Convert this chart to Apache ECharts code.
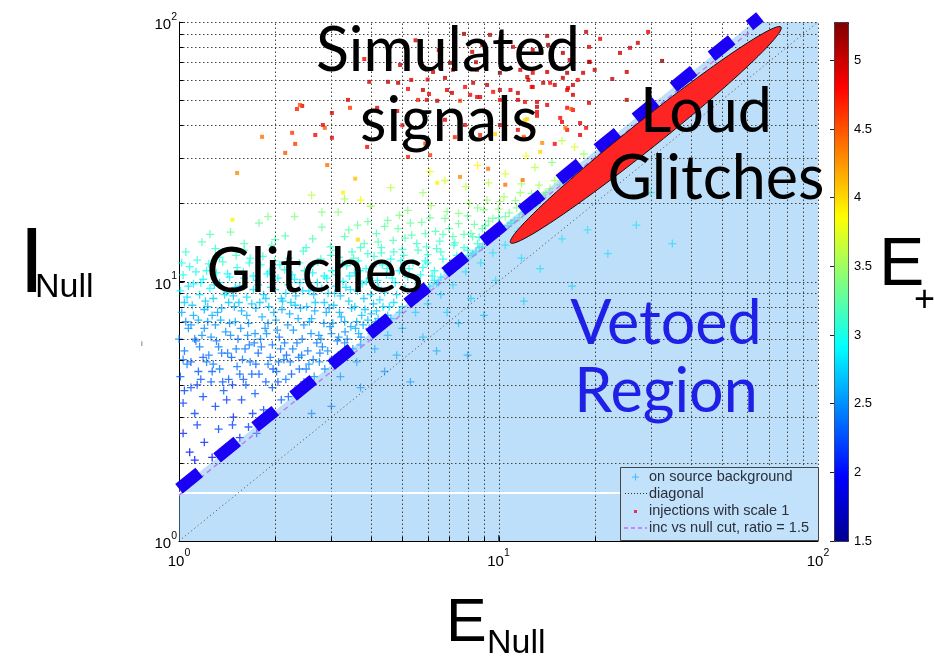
<!DOCTYPE html>
<html><head><meta charset="utf-8">
<script src="https://cdn.jsdelivr.net/npm/echarts@6/dist/echarts.min.js"></script>
<style>html,body{margin:0;padding:0;background:#fff}#c{width:934px;height:658px}</style>
</head><body><div id="c"></div>
<script>
// ---- data (E_Null, I_Null, E_+) ----
const bgPoints = [
[1.01,9.2,2.9],[1.03,10.6,3.0],[1.06,8.7,2.8],[1.08,11.4,3.0],[1.11,9.8,2.9],[1.14,12.1,3.1],[1.16,8.9,2.8],[1.19,10.2,2.9],[1.22,11.0,3.0],[1.25,9.4,2.9],[1.28,8.6,2.7],[1.31,10.8,3.0],[1.34,9.9,2.8],[1.37,11.9,3.1],[1.41,9.1,2.8],[1.44,10.4,2.9],[1.48,8.8,2.7],[1.52,11.3,3.0],[1.55,9.6,2.8],[1.59,10.9,3.0],[1.63,8.7,2.8],[1.67,12.3,3.1],[1.71,9.3,2.8],[1.75,10.1,2.9],[1.8,11.6,3.0],[1.84,8.9,2.7],[1.89,10.7,2.9],[1.94,9.5,2.8],[1.99,12.0,3.1],[2.04,10.3,2.9],[2.09,8.6,2.7],[2.14,11.1,3.0],[2.2,9.7,2.8],[2.26,10.6,2.9],[2.32,8.8,2.7],[2.38,11.8,3.0],[2.44,9.2,2.8],[2.5,10.2,2.9],[2.57,11.4,3.0],[2.64,8.9,2.7],[2.71,9.9,2.8],[2.78,12.2,3.1],[2.85,10.5,2.9],[2.93,9.0,2.8],[3.01,11.0,3.0],[3.09,9.6,2.8],[3.17,12.4,3.1],[3.26,10.0,2.9],[3.35,11.5,3.0],[3.44,9.3,2.8],[3.54,10.8,2.9],[3.64,12.0,3.0],[3.74,9.8,2.9],[3.85,11.2,3.0],[3.96,10.3,2.9],[4.08,12.5,3.1],[4.2,9.5,2.8],[4.33,11.6,3.0],[4.46,10.6,2.9],[4.6,12.2,3.0],[4.75,9.9,2.9],[4.9,11.0,2.9],[5.05,12.6,3.1],[5.2,10.4,2.9],[5.4,11.8,3.0],[5.6,9.8,2.8],[5.8,11.3,3.0],[6.0,12.7,3.1],
[1.02,7.6,2.6],[1.04,5.4,2.4],[1.07,6.6,2.5],[1.1,8.1,2.7],[1.13,5.9,2.4],[1.15,7.1,2.6],[1.18,6.2,2.5],[1.21,8.4,2.7],[1.24,5.2,2.4],[1.27,7.4,2.6],[1.3,6.8,2.5],[1.33,5.6,2.4],[1.36,7.9,2.6],[1.4,6.4,2.5],[1.43,8.3,2.7],[1.46,5.1,2.3],[1.5,7.0,2.6],[1.53,6.0,2.4],[1.57,7.7,2.6],[1.61,5.5,2.4],[1.65,6.9,2.5],[1.69,8.2,2.7],[1.73,6.3,2.5],[1.77,5.3,2.3],[1.82,7.3,2.6],[1.86,6.6,2.5],[1.91,8.0,2.7],[1.96,5.7,2.4],[2.01,7.1,2.6],[2.06,6.1,2.4],[2.11,8.4,2.7],[2.17,5.2,2.3],[2.22,7.5,2.6],[2.28,6.5,2.5],[2.34,5.8,2.4],[2.4,7.9,2.6],[2.46,6.8,2.5],[2.53,5.4,2.4],[2.6,7.2,2.6],[2.67,8.3,2.7],[2.74,6.2,2.5],[2.81,5.6,2.4],[2.89,7.6,2.6],[2.97,6.7,2.5],[3.05,8.1,2.7],[3.13,5.9,2.4],[3.22,7.3,2.6],[3.31,6.4,2.5],[3.4,8.4,2.7],[3.5,5.5,2.5],[3.6,7.0,2.6],[3.71,6.1,2.5],[3.82,7.8,2.7],[3.94,6.6,2.6],[4.06,8.2,2.7],[4.2,7.2,2.7],[4.35,8.0,2.8],[4.5,7.4,2.7],[4.7,8.3,2.8],[4.9,7.6,2.8],
[1.05,7.0,2.5],[1.12,6.0,2.4],[1.2,7.8,2.6],[1.26,6.1,2.5],[1.35,7.1,2.6],[1.42,5.3,2.4],[1.49,8.0,2.6],[1.56,6.6,2.5],[1.63,7.4,2.6],[1.72,5.8,2.4],[1.79,8.3,2.7],[1.88,6.3,2.5],[1.98,7.6,2.6],[2.08,5.5,2.4],[2.19,6.8,2.5],[2.31,8.1,2.7],[2.43,6.0,2.4],[2.56,7.0,2.6],[2.7,5.8,2.4],[2.85,8.3,2.7],[3.0,6.3,2.5],[3.18,7.6,2.6],[3.36,6.0,2.5],[3.55,8.0,2.7],[3.77,6.8,2.6],[4.0,7.5,2.7],
[1.01,4.3,2.3],[1.03,3.4,2.2],[1.06,4.8,2.4],[1.09,3.9,2.3],[1.12,3.1,2.2],[1.15,4.5,2.3],[1.19,3.6,2.2],[1.22,4.9,2.4],[1.26,4.1,2.3],[1.3,3.3,2.2],[1.34,4.6,2.4],[1.38,3.8,2.3],[1.43,4.2,2.3],[1.48,3.0,2.1],[1.52,4.7,2.4],[1.57,3.5,2.2],[1.62,4.0,2.3],[1.67,4.9,2.4],[1.73,3.7,2.3],[1.78,4.4,2.3],[1.84,3.2,2.2],[1.9,4.8,2.4],[1.96,3.9,2.3],[2.02,4.5,2.4],[2.09,3.5,2.3],[2.16,4.2,2.4],[2.23,4.9,2.4],[2.3,3.8,2.3],[2.38,4.6,2.4],[2.46,4.1,2.4],[2.55,4.8,2.5],[2.65,4.3,2.5],[2.75,4.9,2.5],[2.86,4.6,2.5],[2.97,4.95,2.5],
[1.04,3.8,2.2],[1.17,4.2,2.3],[1.28,4.8,2.4],[1.41,3.5,2.2],[1.55,4.4,2.3],[1.7,3.1,2.2],[1.87,4.1,2.3],[2.05,4.9,2.4],[2.2,3.6,2.3],[2.42,3.9,2.3],
[1.03,2.6,2.1],[1.08,2.2,2.0],[1.14,2.8,2.2],[1.2,2.4,2.1],[1.27,2.1,2.0],[1.33,2.7,2.2],[1.4,2.3,2.1],[1.47,2.8,2.2],[1.55,2.5,2.1],[1.65,2.75,2.2],[1.75,2.6,2.2],[1.86,2.9,2.2],[1.12,2.05,2.0],
[1.05,13.0,3.1],[1.18,14.2,3.2],[1.3,13.4,3.1],[1.45,15.5,3.3],[1.6,13.2,3.1],[1.78,16.8,3.3],[1.95,13.8,3.2],[2.15,15.0,3.2],[2.3,17.8,3.4],[2.45,13.1,3.1],[2.62,14.6,3.2],[2.8,16.2,3.3],[2.98,13.6,3.1],[3.15,18.5,3.4],[3.3,14.9,3.2],[3.48,13.0,3.1],[3.62,16.5,3.3],[3.8,14.0,3.2],[3.98,19.5,3.5],[4.15,15.3,3.2],[4.3,13.5,3.1],[4.5,17.2,3.3],[4.68,14.4,3.2],[4.85,16.0,3.3],[5.0,13.3,3.1],[5.2,18.8,3.4],[5.35,15.1,3.2],[5.55,14.0,3.1],[5.75,16.9,3.3],[5.95,13.6,3.1],[6.15,19.6,3.5],[6.35,15.6,3.2],[6.55,14.3,3.1],[6.8,17.5,3.3],[7.0,16.0,3.2],[7.25,13.8,3.1],[7.5,18.3,3.4],[7.8,15.2,3.2],[8.1,20.0,3.5],[8.4,16.6,3.3],[8.7,14.8,3.1],[9.0,18.9,3.4],[9.3,17.1,3.3],[9.7,15.9,3.2],[10.1,20.3,3.5],[10.5,17.8,3.3],[10.9,16.8,3.2],[11.4,19.2,3.4],[11.9,18.2,3.3],[12.5,20.1,3.4],[13.1,19.6,3.4],[13.8,21.5,3.5],[14.5,22.8,3.5],
[2.6,21.5,3.6],[3.7,20.6,3.9],[4.6,23.0,3.6],[5.8,22.0,3.5],[6.8,24.5,3.7],[7.9,23.2,3.6],[9.3,24.0,3.6],[10.5,26.0,3.7],[11.8,23.8,3.5],[13.0,27.5,3.6],[14.7,28.8,3.4],[15.8,34.9,3.6],[17.3,33.0,3.7],[16.2,26.5,3.5],[12.2,30.5,3.8],[18.5,31.0,3.5],[8.6,28.0,3.9],[6.1,26.5,3.8],
[5.9,9.3,2.9],[6.2,10.5,3.0],[6.5,9.9,2.9],[6.8,11.2,3.0],[7.1,11.8,3.0],[7.4,12.6,3.1],[7.7,11.9,3.0],[8.0,13.2,3.0],[8.3,12.8,3.0],[8.6,14.0,3.1],[8.9,13.6,3.0],[9.2,14.6,3.1],[9.5,15.0,3.0],[9.9,15.6,3.1],[10.3,16.0,3.1],[10.7,16.4,3.0],[11.2,17.2,3.1],[6.0,11.8,3.0],[6.6,13.0,3.1],[7.3,14.1,3.1],[8.2,15.3,3.2],[9.1,16.4,3.2],[10.0,17.6,3.2],[5.3,8.6,2.8],[5.0,8.0,2.8],[4.6,7.2,2.7],[4.3,6.7,2.7],[4.0,6.3,2.6],[3.7,5.7,2.6],[3.4,5.3,2.5],[3.1,4.9,2.5],[6.4,9.8,2.9],[7.0,10.8,2.9],[7.6,11.6,3.0],[8.5,13.0,3.0],[12.0,18.5,3.2],[12.8,19.5,3.2],
[3.2,4.3,2.5],[3.6,4.9,2.6],[4.1,5.5,2.6],[4.5,6.2,2.7],[5.0,6.6,2.7],[5.5,7.6,2.8],[6.0,8.2,2.8],[6.6,8.9,2.8],[7.2,9.7,2.9],[7.9,10.9,2.9],[8.8,11.8,2.9],[9.6,12.9,3.0],[10.5,13.8,3.0],[11.5,15.6,3.0],[12.6,16.8,3.0],[4.8,5.2,2.6],[5.8,6.1,2.7],[6.9,7.6,2.8],[8.2,8.6,2.8],[9.8,10.1,2.9],[11.8,12.3,2.9],[13.5,11.2,2.9],[15.8,14.6,3.0],[19.0,15.8,3.0],[27.0,16.5,3.0],[22.0,12.8,2.9],[17.0,9.6,2.8],[3.7,3.9,2.5],[4.4,4.5,2.5],[6.4,5.4,2.6],[5.3,4.1,2.5],[7.5,6.9,2.7],[9.0,7.4,2.7],[12.0,8.4,2.8],[30.0,22.0,3.1],[35.0,14.0,2.9],[8.0,5.2,2.6],[3.0,3.3,2.4],[2.6,3.1,2.4],
[1.0,6.0,2.5],[1.02,11.8,3.0],[1.04,8.3,2.7],[1.07,9.6,2.8],[1.09,4.9,2.3],[1.11,7.4,2.6],[1.13,10.9,3.0],[1.16,5.6,2.4],[1.17,9.9,2.9],[1.2,6.6,2.5],[1.23,8.0,2.7],[1.24,11.7,3.0],[1.27,4.5,2.3],[1.29,9.7,2.8],[1.32,7.6,2.6],[1.34,12.4,3.1],[1.36,5.3,2.4],[1.39,8.9,2.8],[1.42,10.7,2.9],[1.44,6.9,2.5],[1.47,4.0,2.2],[1.5,9.5,2.8],[1.51,12.6,3.1],[1.54,8.3,2.7],[1.58,5.0,2.4],[1.6,10.3,2.9],[1.64,6.2,2.5],[1.66,11.8,3.0],[1.69,4.4,2.3],[1.71,10.5,2.9],[1.74,7.9,2.6],[1.77,9.7,2.8],[1.81,5.6,2.4],[1.83,12.5,3.1],[1.87,8.6,2.7],[1.9,6.9,2.5],[1.92,10.9,2.9],[1.97,4.6,2.3],[2.0,9.3,2.8],[2.03,6.5,2.5],[2.07,11.6,3.0],[2.1,7.8,2.6],[2.13,5.0,2.4],[2.16,9.0,2.8],[2.21,12.3,3.1],[2.24,8.3,2.7],[2.27,5.5,2.4],[2.3,10.2,2.9],[2.36,7.2,2.6],[2.39,9.9,2.8],[2.42,5.2,2.4],[2.47,11.0,3.0],[2.51,8.0,2.7],[2.55,9.2,2.8],[2.59,6.3,2.5],[2.62,10.8,2.9],[2.66,7.7,2.6],[2.72,11.9,3.0],[2.76,5.3,2.4],[2.8,9.4,2.8],[2.84,6.9,2.5],[2.9,10.3,2.9],[2.95,7.9,2.6],[2.99,12.6,3.1],
[3.03,6.9,2.6],[3.07,9.0,2.8],[3.12,10.6,2.9],[3.16,6.1,2.5],[3.2,8.8,2.7],[3.25,11.7,3.0],[3.3,7.0,2.6],[3.33,9.5,2.8],[3.38,5.5,2.5],[3.42,10.5,2.9],[3.47,7.9,2.7],[3.52,12.3,3.1],[3.57,6.6,2.6],[3.62,9.2,2.8],[3.68,11.0,2.9],[3.73,7.4,2.7],[3.79,8.6,2.7],[3.86,10.0,2.9],[3.9,12.8,3.1],[3.98,8.9,2.8],[4.04,11.4,3.0],[4.12,7.0,2.7],[4.18,10.1,2.9],[4.25,8.5,2.8],[4.3,12.9,3.1],[4.4,9.1,2.8],[4.48,11.2,3.0],[4.55,8.0,2.8],[4.65,10.3,2.9],[4.8,8.9,2.8],[4.95,12.0,3.0],[5.1,9.4,2.9],[5.25,11.2,3.0],[5.45,8.8,2.9],[5.7,10.6,2.9],[5.9,12.0,3.0],[6.3,11.0,3.0],[6.7,12.2,3.0],
[3.1,13.2,3.1],[3.4,15.8,3.3],[3.7,13.5,3.1],[3.9,17.0,3.3],[4.2,14.2,3.2],[4.4,16.3,3.3],[4.7,13.0,3.1],[4.9,18.0,3.4],[5.1,14.7,3.2],[5.3,16.8,3.3],[5.6,13.2,3.1],[5.9,15.3,3.2],[6.1,17.6,3.3],[6.4,13.4,3.1],[6.7,15.2,3.2],[6.9,18.6,3.4],[7.2,14.9,3.2],[7.5,16.7,3.3],[7.8,13.5,3.1],[8.0,17.9,3.3],[8.3,14.9,3.2],[8.6,19.2,3.4],[8.9,16.0,3.2],[9.2,20.6,3.5],[9.6,17.5,3.3],[10.0,19.0,3.4],[10.4,21.2,3.5],[10.8,18.4,3.3],[11.3,20.5,3.4],[11.7,22.0,3.5],[12.2,19.8,3.3],[12.7,21.8,3.4],[13.4,23.5,3.5],[14.0,22.0,3.4],[15.0,24.5,3.5],[15.6,23.6,3.4],[2.5,13.5,3.1],[2.0,14.5,3.2],[1.6,14.0,3.2],[1.25,15.2,3.2],[2.8,18.5,3.4],[3.3,20.8,3.5],[1.9,17.8,3.4],
[5.5,8.8,2.8],[5.8,9.2,2.8],[6.1,9.6,2.9],[6.3,10.1,2.9],[6.6,10.4,2.9],[6.9,10.9,2.9],[7.2,11.2,3.0],[7.5,11.9,3.0],[7.9,12.3,3.0],[8.2,12.6,3.0],[8.7,13.5,3.1],[9.3,14.3,3.1],[9.8,15.1,3.1],[10.4,15.9,3.1],[11.0,16.8,3.1],[11.6,17.6,3.2],
[1.03,5.0,2.4],[1.09,6.8,2.5],[1.14,4.0,2.2],[1.19,5.1,2.3],[1.23,7.0,2.5],[1.31,5.9,2.4],[1.37,4.1,2.3],[1.45,6.2,2.5],[1.51,5.5,2.4],[1.59,4.2,2.3],[1.66,5.7,2.4],[1.74,4.8,2.3],[1.8,6.0,2.5],[1.93,5.1,2.4],[2.04,4.1,2.3],[2.14,5.8,2.4],[2.25,4.4,2.3],[2.37,5.1,2.4],[2.5,4.6,2.4],[2.63,5.0,2.4],[2.78,6.0,2.5],[2.92,5.4,2.5],[3.15,5.2,2.5],[3.3,5.8,2.5],[3.45,6.7,2.6],[3.65,6.3,2.6],[3.9,7.1,2.7],[4.15,7.7,2.7]
];
const injPoints = [
[9.4,89.2,5.0],[14.2,88.4,5.1],[18.8,91.6,5.0],[20.8,86.1,4.9],[8.27,76.7,5.0],[7.05,69.6,5.2],[8.89,81.6,5.0],[11.1,80.2,4.9],[12.8,78.1,5.0],[15.9,76.0,5.1],[19.2,80.2,4.9],[24.0,76.0,5.0],[14.3,81.6,5.2],
[4.92,68.3,5.0],[6.24,64.2,5.0],[7.2,65.4,4.9],[8.57,65.4,5.1],[10.1,63.7,5.3],[11.7,65.4,5.0],[12.8,63.7,4.9],[14.2,64.2,5.0],[16.4,63.7,5.1],[18.4,63.7,5.0],[19.3,70.2,4.9],[22.7,60.3,5.0],[20.0,65.4,5.0],
[3.94,58.8,4.9],[4.51,58.8,5.0],[4.85,58.3,5.0],[5.33,59.8,4.9],[5.21,55.2,4.8],[5.8,54.7,5.0],[6.06,52.8,4.8],[6.8,60.9,5.0],[6.9,54.7,4.9],[7.15,53.3,5.0],[7.86,56.2,4.8],[8.33,58.3,5.0],[8.57,51.4,4.9],[9.21,57.2,5.0],[9.62,53.8,4.8],[10.1,54.7,5.0],[10.9,54.7,4.9],[11.5,53.3,5.0],[12.4,59.8,4.9],[12.8,56.2,5.0],[13.8,58.3,5.0],[14.5,58.3,4.8],[15.0,57.2,5.0],[15.9,60.9,5.0],[16.4,54.7,4.9],[17.1,57.2,5.0],[17.7,59.8,4.8],
[2.34,46.2,4.7],[2.43,47.5,4.9],[3.01,44.6,4.9],[3.38,50.1,4.9],[3.43,46.7,4.6],[4.17,46.7,4.9],[4.82,45.4,4.9],[5.6,50.1,4.7],[5.97,50.1,4.9],[6.43,49.7,5.0],[7.58,49.7,4.6],[8.15,52.4,4.8],[8.76,51.4,4.9],[10.1,50.1,4.8],[11.5,50.1,5.0],[12.1,49.2,4.8],[13.2,49.2,4.9],[14.2,47.9,4.9],[17.1,45.8,4.8],[19.2,48.8,4.9],[25.2,50.1,5.0],
[2.82,40.1,4.8],[2.67,36.7,4.8],[2.26,37.4,4.6],[2.15,31.3,4.5],[2.31,33.9,4.6],[3.01,35.8,4.9],[3.88,33.0,4.8],[5.21,30.2,4.7],[6.11,30.7,4.6],[10.1,40.1,4.9],[8.76,36.7,4.7],[7.86,40.1,4.8],[11.5,38.4,4.9],[12.0,35.8,4.7],[13.2,43.5,4.9],[15.0,33.9,4.8],[15.8,41.2,4.9],[16.4,38.4,4.8],[18.0,36.7,4.9],[18.8,39.1,4.8],
[2.91,28.1,4.4],[3.56,24.9,4.1],[3.26,22.0,3.9],[6.43,24.0,3.9],[7.58,25.3,4.3],[9.28,27.2,4.4],[9.76,37.0,4.0],[12.3,42.3,4.0],[13.5,31.6,4.0],[16.2,39.1,4.4],
[27.3,83.1,5.0],[29.4,91.6,4.9],[32.5,70.8,5.2],[25.2,64.2,5.0],[19.2,70.2,5.0],[25.8,79.5,4.9],[16.7,71.4,5.0],[16.5,55.7,4.9],[17.1,52.4,5.0],[12.7,56.2,4.8],[12.3,61.4,5.0],[16.4,46.7,4.8],[16.9,46.2,4.5],[18.0,40.8,4.9],[15.6,42.7,4.8],[13.2,47.1,5.0],[13.2,45.0,4.9],[11.6,44.6,4.8],[12.0,36.1,4.4],[13.7,34.2,4.3],[12.1,41.9,4.0],[10.5,23.6,4.4],[11.9,24.6,4.4],
[1.82,36.1,4.4],[2.39,47.9,4.5],[2.86,39.1,4.5],[1.47,17.3,3.9],[1.52,26.2,4.3],[3.63,14.5,4.0],
[5.5,85,5.0],[6.5,78,4.9],[7.8,90,5.1],[4.5,80,4.9],[3.8,72,4.8],[8.5,70,5.0],[6.0,60,4.9],[5.0,40,4.8],[6.8,42,4.9],[7.3,36,4.7],[4.3,38,4.8],[5.9,34,4.6]
];
const diagonalLine = [[1,1],[100,100]];
const cutLine = [[1,1.5],[66.67,100]];          // inc vs null cut, ratio = 1.5
const vetoBoundary = [[1,1.59],[62.9,100],[100,100]];
const handLine = [[1,1.59],[65.8,104.6]];       // hand-drawn thick dashed line
const whiteLine = [[1,1.53],[100,1.53]];
const ellipseEnds = [[10.9,14.1,76.6,95.6]];    // "Loud Glitches" ellipse tips
const gridValues = [2,3,4,5,6,7,8,9,10,20,30,40,50,60,70,80,90,100];
const colorRange = [1.5, 5.28];
const colorTicks = 0.5;

const jet = ['#00008f','#0000ff','#0080ff','#00ffff','#80ff80','#ffff00','#ff8000','#ff0000','#800000'];
const plusSym = 'path://M4.2,0H5.8V4.2H10V5.8H5.8V10H4.2V5.8H0V4.2H4.2Z';
const F = 'Liberation Sans';
const sup = v => '{b|10}{s|' + Math.round(Math.log10(v)) + '}';
const rich = {
  b:{fontSize:15,fontFamily:F,color:'#000',verticalAlign:'bottom'},
  s:{fontSize:10.5,fontFamily:F,color:'#000',verticalAlign:'bottom',padding:[0,0,10,0]}
};

const chart = echarts.init(document.getElementById('c'));
const ann = (text, x, y, size, color, fam, align) => ({
  type:'text', x:x, y:y, z:100, silent:true,
  style:{text:text, fontSize:size, fontFamily:fam||'Lato', fill:color||'#000', align:align||'center', verticalAlign:'middle'}
});
chart.setOption({
  animation:false,
  backgroundColor:'#fff',
  grid:[{left:179,top:22,width:639,height:519},{left:834,top:22,width:14,height:519}],
  xAxis:[
    {type:'log',logBase:10,min:1,max:100,gridIndex:0,
     axisLine:{show:true,lineStyle:{color:'#000',width:1}},
     axisTick:{inside:true,length:6,lineStyle:{color:'#000'}},
     splitLine:{show:false},
     axisLabel:{formatter:sup,rich:rich,fontSize:15,fontFamily:F,color:'#000',margin:7}},
    {type:'value',gridIndex:1,min:0,max:1,show:false}
  ],
  yAxis:[
    {type:'log',logBase:10,min:1,max:100,gridIndex:0,
     axisLine:{show:true,lineStyle:{color:'#000',width:1}},
     axisTick:{inside:true,length:6,lineStyle:{color:'#000'}},
     splitLine:{show:false},
     axisLabel:{formatter:sup,rich:rich,fontSize:15,fontFamily:F,color:'#000',margin:2}},
    {type:'value',gridIndex:1,min:colorRange[0],max:colorRange[1],interval:colorTicks,position:'right',z:10,
     axisLine:{show:false},
     axisTick:{show:true,inside:true,length:4,lineStyle:{color:'#222'}},
     axisLabel:{showMaxLabel:false,fontSize:13,fontFamily:F,color:'#000',margin:6},
     splitLine:{show:false}}
  ],
  visualMap:{type:'continuous',min:colorRange[0],max:colorRange[1],dimension:2,seriesIndex:[0,1],
    inRange:{color:jet},left:834,top:22,itemWidth:14,itemHeight:519,padding:0,text:['',''],
    calculable:false,hoverLink:false,borderColor:'#222',borderWidth:1,show:true},
  series:[
    {name:'on source background',type:'scatter',data:bgPoints,symbol:plusSym,symbolSize:8,z:2,silent:true},
    {name:'injections with scale 1',type:'scatter',data:injPoints,symbol:'rect',symbolSize:4,z:3,silent:true},
    {name:'veto',type:'line',data:vetoBoundary,symbol:'none',z:4,silent:true,
     lineStyle:{width:0},areaStyle:{color:'rgba(110,185,245,0.45)',opacity:1,origin:'start'}},
    {name:'grid',type:'custom',z:5,silent:true,data:gridValues.map(v=>[v,v]),
     renderItem:function(params,api){
       const v=api.value(0);
       const a=api.coord([v,1]), b=api.coord([v,100]);
       const c=api.coord([1,v]), d=api.coord([100,v]);
       const ax=Math.round(a[0])+0.5, cy=Math.round(c[1])+0.5;
       const st={stroke:'#444',lineWidth:1,lineDash:[1.5,2.5]};
       const tk={stroke:'#000',lineWidth:1};
       return {type:'group',children:[
         {type:'line',shape:{x1:ax,y1:a[1],x2:ax,y2:b[1]},style:st},
         {type:'line',shape:{x1:c[0],y1:cy,x2:d[0],y2:cy},style:st},
         {type:'line',shape:{x1:ax,y1:a[1],x2:ax,y2:a[1]-4},style:tk},
         {type:'line',shape:{x1:c[0],y1:cy,x2:c[0]+4,y2:cy},style:tk}
       ]};
     }},
    {name:'white',type:'line',data:whiteLine,symbol:'none',z:5,silent:true,lineStyle:{color:'#fff',width:2}},
    {name:'diagonal',type:'line',data:diagonalLine,symbol:'none',z:6,silent:true,lineStyle:{color:'#444',width:1,type:[1,3]}},
    {name:'inc vs null cut, ratio = 1.5',type:'line',data:cutLine,symbol:'none',z:6,silent:true,lineStyle:{color:'#c07cf0',width:1.5,type:[5,4]}},
    {name:'hand',type:'line',data:handLine,symbol:'none',z:7,silent:true,clip:false,lineStyle:{color:'#1a00f5',width:12,type:[26,23]}},
    {name:'loud',type:'custom',z:8,silent:true,data:ellipseEnds,encode:{x:[0,2],y:[1,3]},
     renderItem:function(params,api){
       const p1=api.coord([api.value(0),api.value(1)]), p2=api.coord([api.value(2),api.value(3)]);
       const cx=(p1[0]+p2[0])/2, cy=(p1[1]+p2[1])/2;
       const A=Math.hypot(p2[0]-p1[0],p2[1]-p1[1])/2, B=14, ang=Math.atan2(p2[1]-p1[1],p2[0]-p1[0]);
       const pts=[];
       for(let i=0;i<96;i++){const t=i/96*Math.PI*2, ex=A*Math.cos(t), ey=B*Math.sin(t);
         pts.push([cx+ex*Math.cos(ang)-ey*Math.sin(ang), cy+ex*Math.sin(ang)+ey*Math.cos(ang)]);}
       return {type:'polygon',shape:{points:pts},style:{fill:'#ff2424',stroke:'#111',lineWidth:1}};
     }}
  ],
  graphic:{elements:[
    ann('Simulated',448,51,61),
    ann('signals',449,121,61),
    ann('Loud',706,112,61),
    ann('Glitches',716,179,61),
    ann('Glitches',315,272,61),
    ann('Vetoed',666,324,61,'#1f1fe6'),
    ann('Region',666,392,61,'#1f1fe6'),
    ann('I',19,267,92,'#000',F,'left'),
    ann('Null',35,288,34,'#000',F,'left'),
    ann('E',446,624,61,'#000',F,'left'),
    ann('Null',487,644,34,'#000',F,'left'),
    ann('E',879,266,68,'#000',F,'left'),
    ann('+',914,301,36,'#000',F,'left'),
    ann('i',142,344,8,'#555',F,'center'),
    {type:'rect',z:90,silent:true,shape:{x:620.5,y:467.5,width:198,height:73},style:{fill:'#c2e1fa',stroke:'#444',lineWidth:1}},
    {type:'line',z:91,silent:true,shape:{x1:632,y1:477,x2:639,y2:477},style:{stroke:'#4ab4ff',lineWidth:1}},
    {type:'line',z:91,silent:true,shape:{x1:635.5,y1:473.5,x2:635.5,y2:480.5},style:{stroke:'#4ab4ff',lineWidth:1}},
    {type:'line',z:91,silent:true,shape:{x1:625,y1:493.5,x2:647,y2:493.5},style:{stroke:'#333',lineWidth:1,lineDash:[1,2]}},
    {type:'rect',z:91,silent:true,shape:{x:634,y:510,width:3,height:3},style:{fill:'#e0305a'}},
    {type:'line',z:91,silent:true,shape:{x1:624,y1:528,x2:647,y2:528},style:{stroke:'#cc66ff',lineWidth:1.5,lineDash:[4,3]}},
    ann('on source background',649,477,14.5,'#2a2f3a',F,'left'),
    ann('diagonal',649,494,14.5,'#2a2f3a',F,'left'),
    ann('injections with scale 1',649,511,14.5,'#2a2f3a',F,'left'),
    ann('inc vs null cut, ratio = 1.5',649,528,14.5,'#2a2f3a',F,'left')
  ]}
});
</script>
</body></html>
